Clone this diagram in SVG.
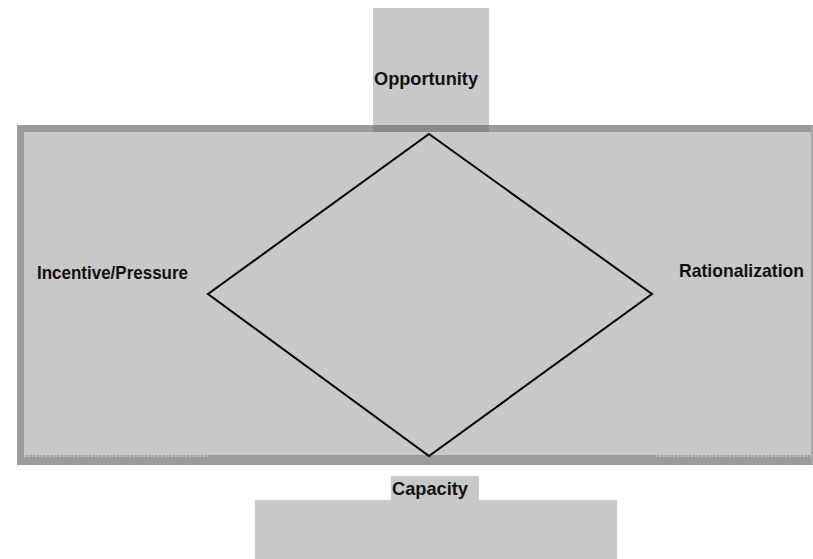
<svg xmlns="http://www.w3.org/2000/svg" width="813" height="559" viewBox="0 0 813 559">
  <style>
    .panel { fill: #c8c8c8; }
    .band { fill: #9b9b9b; }
    .band-dark { fill: #8a8a8a; }
    .dots { stroke: #9b9b9b; stroke-width: 2; stroke-dasharray: 2 1.5; fill: none; }
    .label { font-family: "Liberation Sans", Arial, sans-serif; font-weight: bold; font-size: 19px; fill: #111; }
    .edge { fill: none; stroke: #000; stroke-width: 2; stroke-linejoin: miter; }
  </style>

  <rect width="813" height="559" fill="#ffffff"/>

  <!-- main framed panel -->
  <g id="frame">
    <rect class="panel" x="18" y="125" width="795" height="340"/>
    <!-- top border -->
    <rect class="band" x="17" y="125" width="796" height="7"/>
    <!-- left border -->
    <rect class="band" x="17" y="125" width="7" height="340"/>
    <!-- bottom border -->
    <rect class="band" x="17" y="457" width="796" height="8"/>
    <rect class="band" x="208" y="455" width="446" height="3"/>
    <line class="dots" x1="26" y1="456" x2="208" y2="456"/>
    <line class="dots" x1="654" y1="456" x2="812" y2="456"/>
    <!-- right edge -->
    <rect x="811" y="125" width="2" height="340" fill="#a8a8a8"/>
  </g>

  <g id="opportunity">
    <rect class="panel" x="373" y="8" width="116" height="118"/>
    <rect class="band-dark" x="373" y="125" width="116" height="7"/>
    <text class="label" x="374" y="85" textLength="104" lengthAdjust="spacingAndGlyphs">Opportunity</text>
  </g>

  <g id="incentive-pressure">
    <text class="label" x="37" y="279" textLength="151" lengthAdjust="spacingAndGlyphs">Incentive/Pressure</text>
  </g>

  <g id="rationalization">
    <text class="label" x="679" y="277" textLength="125" lengthAdjust="spacingAndGlyphs">Rationalization</text>
  </g>

  <g id="capacity">
    <rect class="panel" x="391" y="476" width="88" height="25"/>
    <rect class="panel" x="255" y="500" width="362" height="59"/>
    <text class="label" x="392" y="495" textLength="76" lengthAdjust="spacingAndGlyphs">Capacity</text>
  </g>

  <!-- diamond linking the four factors -->
  <g id="connectors">
    <polygon class="edge" points="429,134 652,294 429,456 208,294"/>
  </g>
</svg>
